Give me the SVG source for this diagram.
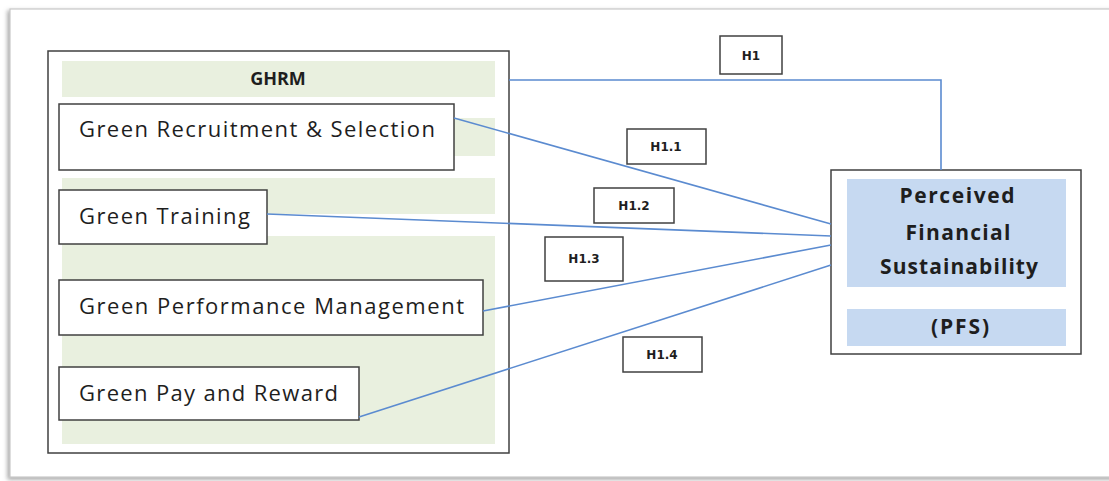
<svg xmlns="http://www.w3.org/2000/svg" width="1109" height="481" viewBox="0 0 1109 481">
  <defs>
    <filter id="pageShadow" x="-5%" y="-5%" width="110%" height="110%">
      <feDropShadow dx="-2" dy="2" stdDeviation="2" flood-color="#808080" flood-opacity="0.7"/>
    </filter>
  </defs>
  <style>
    .page { fill: #ffffff; stroke: #c8c8c8; stroke-width: 1.2; }
    .frame { fill: #ffffff; stroke: #404040; stroke-width: 1.5; }
    .band-green { fill: #e9f0df; }
    .band-blue { fill: #c6d9f1; }
    .item { fill: #ffffff; stroke: #404040; stroke-width: 1.5; }
    .tag { fill: #ffffff; stroke: #404040; stroke-width: 1.5; }
    .item-text { font-family: "Open Sans", "Liberation Sans", sans-serif; font-size: 22px; fill: #1e1e1e; }
    .head-text { font-family: "Open Sans", "Liberation Sans", sans-serif; font-size: 18px; font-weight: bold; fill: #1e1e1e; text-anchor: middle; }
    .pfs-text { font-family: "Open Sans", "Liberation Sans", sans-serif; font-size: 21px; font-weight: bold; fill: #1e1e1e; text-anchor: middle; }
    .tag-text { font-family: "DejaVu Sans", Verdana, sans-serif; font-size: 12px; font-weight: bold; fill: #1e1e1e; text-anchor: middle; }
    .link { fill: none; stroke: #5b8bd0; stroke-width: 1.6; }
  </style>

  <!-- page background with shadow -->
  <rect class="page" x="10" y="9" width="1110" height="468" filter="url(#pageShadow)"/>

  <!-- GHRM construct -->
  <g id="ghrm">
    <rect class="frame" x="48" y="51" width="461" height="402"/>
    <rect class="band-green" x="62" y="61" width="433" height="36"/>
    <rect class="band-green" x="62" y="118" width="433" height="38"/>
    <rect class="band-green" x="62" y="178" width="433" height="36"/>
    <rect class="band-green" x="62" y="236" width="433" height="208"/>
    <text class="head-text" x="278" y="85">GHRM</text>
  </g>

  <g id="recruitment">
    <rect class="item" x="59" y="104" width="395" height="66"/>
    <text class="item-text" x="79" y="137" textLength="356" lengthAdjust="spacing">Green Recruitment &amp; Selection</text>
  </g>

  <g id="training">
    <rect class="item" x="59" y="190" width="208" height="54"/>
    <text class="item-text" x="79" y="224" textLength="171" lengthAdjust="spacing">Green Training</text>
  </g>

  <g id="performance">
    <rect class="item" x="59" y="280" width="424" height="55"/>
    <text class="item-text" x="79" y="314" textLength="385" lengthAdjust="spacing">Green Performance Management</text>
  </g>

  <g id="pay">
    <rect class="item" x="59" y="367" width="300" height="53"/>
    <text class="item-text" x="79" y="401" textLength="259" lengthAdjust="spacing">Green Pay and Reward</text>
  </g>

  <!-- outcome construct -->
  <g id="pfs">
    <rect class="frame" x="831" y="170" width="250" height="184"/>
    <rect class="band-blue" x="847" y="179" width="219" height="108"/>
    <rect class="band-blue" x="847" y="309" width="219" height="37"/>
    <text class="pfs-text" x="957" y="203" textLength="115" lengthAdjust="spacing">Perceived</text>
    <text class="pfs-text" x="958" y="240" textLength="105" lengthAdjust="spacing">Financial</text>
    <text class="pfs-text" x="959" y="274" textLength="158" lengthAdjust="spacing">Sustainability</text>
    <text class="pfs-text" x="960" y="334" textLength="58" lengthAdjust="spacing">(PFS)</text>
  </g>

  <!-- hypothesis paths -->
  <g id="connectors">
    <polyline class="link" points="509,80 941,80 941,170"/>
    <line class="link" x1="454" y1="118" x2="831" y2="224"/>
    <line class="link" x1="267" y1="214" x2="831" y2="236"/>
    <line class="link" x1="483" y1="311" x2="831" y2="245"/>
    <line class="link" x1="359" y1="417" x2="831" y2="265"/>
  </g>

  <!-- hypothesis labels -->
  <g id="h1">
    <rect class="tag" x="720" y="36" width="62" height="38"/>
    <text class="tag-text" x="751" y="60">H1</text>
  </g>
  <g id="h1-1">
    <rect class="tag" x="627" y="129" width="79" height="35"/>
    <text class="tag-text" x="666" y="151">H1.1</text>
  </g>
  <g id="h1-2">
    <rect class="tag" x="594" y="188" width="80" height="35"/>
    <text class="tag-text" x="634" y="210">H1.2</text>
  </g>
  <g id="h1-3">
    <rect class="tag" x="545" y="237" width="78" height="44"/>
    <text class="tag-text" x="584" y="263">H1.3</text>
  </g>
  <g id="h1-4">
    <rect class="tag" x="623" y="337" width="79" height="35"/>
    <text class="tag-text" x="662" y="359">H1.4</text>
  </g>
</svg>
